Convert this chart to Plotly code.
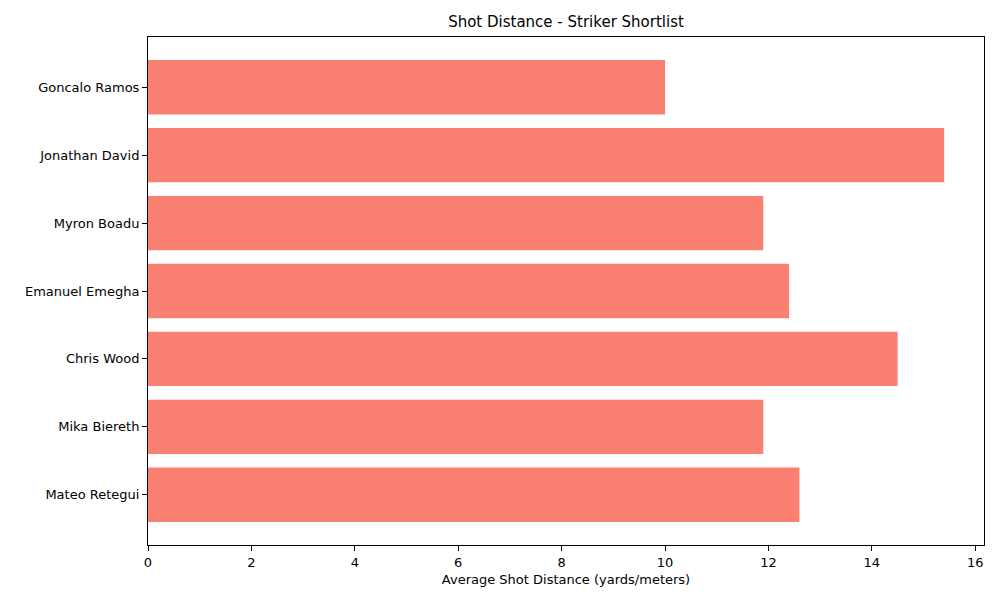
import plotly.graph_objects as go

players = ["Goncalo Ramos", "Jonathan David", "Myron Boadu", "Emanuel Emegha",
           "Chris Wood", "Mika Biereth", "Mateo Retegui"]
shot_distance = [10.0, 15.4, 11.9, 12.4, 14.5, 11.9, 12.6]

# matplotlib barh: first item at the bottom position 0 -> reverse so Goncalo is on top
ypos = list(range(len(players)))[::-1]

fig = go.Figure(go.Bar(
    x=shot_distance, y=ypos, orientation="h", width=0.8,
    marker=dict(color="#FA8072", line_width=0),
))

axis_style = dict(showline=True, linecolor="black", linewidth=1, mirror=True,
                  ticks="outside", ticklen=5, tickcolor="black", showgrid=False,
                  zeroline=False, tickfont=dict(size=13))

fig.update_layout(
    width=1000, height=600,
    margin=dict(l=140, r=24, t=29, b=63),
    plot_bgcolor="white", paper_bgcolor="white",
    font=dict(family="DejaVu Sans", size=13, color="black"),
    title=dict(text="Shot Distance - Striker Shortlist", x=0.5, xanchor="center",
               xref="paper", y=1 - 14 / 600, yanchor="middle", font=dict(size=15)),
    xaxis=dict(range=[0, 16.17], dtick=2,
               title=dict(text="Average Shot Distance (yards/meters)", standoff=6,
                          font=dict(size=13)),
               **axis_style),
    yaxis=dict(range=[-0.74, 6.74], tickvals=ypos, ticktext=players, **axis_style),
    showlegend=False,
)

fig.write_html("out.html")
